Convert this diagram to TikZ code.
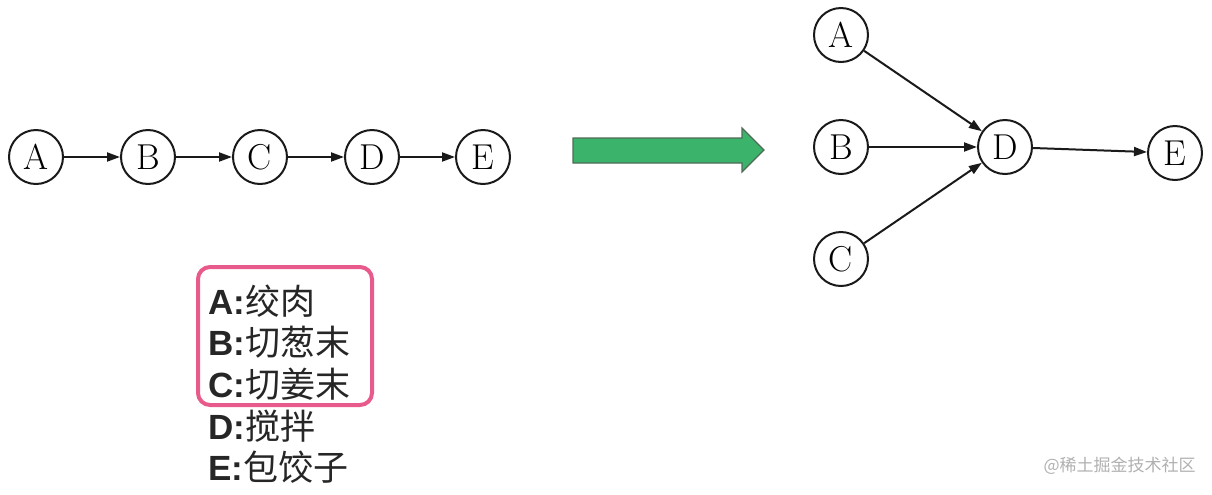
\documentclass[tikz,border=0pt]{standalone}
\usepackage{fontspec}
\usepackage{tikz}
\usetikzlibrary{arrows.meta,positioning,fit}
\newfontfamily\cjk{Noto Sans CJK SC}
\newfontfamily\arialfont{Liberation Sans}
\definecolor{ink}{HTML}{1A1A1A}
\definecolor{textgray}{HTML}{262626}
\definecolor{pink}{HTML}{E85A8C}
\definecolor{arrowgreen}{HTML}{3BB36A}
\definecolor{arrowedge}{HTML}{4E6B58}
\definecolor{markgray}{HTML}{B0B0B0}
\newcommand{\keyline}[2]{{\arialfont\bfseries #1:}{\cjk #2}}

\begin{document}
\begin{tikzpicture}[x=0.5pt,y=-0.5pt,
  task/.style={circle,draw=ink,line width=1pt,minimum size=27pt,inner sep=0pt,font=\fontsize{18}{18}\selectfont},
  flow/.style={draw=ink,line width=1pt,-{Triangle[length=6.5pt,width=4.5pt]}},
  key/.style={anchor=west,inner sep=0pt,text=textgray,font=\fontsize{17.5}{17.5}\selectfont}]
  \useasboundingbox (0,0) rectangle (1212,494);
  \node[task] (la) at (36,157) {A};
  \node[task] (lb) at (148,157) {B};
  \node[task] (lc) at (260,157) {C};
  \node[task] (ld) at (372,157) {D};
  \node[task] (le) at (483,157) {E};
  \draw[flow] (la) -- (lb);
  \draw[flow] (lb) -- (lc);
  \draw[flow] (lc) -- (ld);
  \draw[flow] (ld) -- (le);
  \draw[draw=arrowedge,fill=arrowgreen,line width=0.6pt]
    (573,138) -- (742,138) -- (742,128) -- (764,150) -- (742,172) -- (742,163) -- (573,163) -- cycle;
  \node[task] (ra) at (841,35) {A};
  \node[task] (rb) at (841,147) {B};
  \node[task] (rc) at (841,259) {C};
  \node[task] (rd) at (1005,147) {D};
  \node[task] (re) at (1175,153) {E};
  \draw[flow] (ra) -- (rd);
  \draw[flow] (rb) -- (rd);
  \draw[flow] (rc) -- (rd);
  \draw[flow] (rd) -- (re);
  \node[key] (ka) at (208,301) {\keyline{A}{绞肉}};
  \node[key] (kb) at (208,342) {\keyline{B}{切葱末}};
  \node[key] (kc) at (208,384) {\keyline{C}{切姜末}};
  \node[key] (kd) at (208,426) {\keyline{D}{搅拌}};
  \node[key] (ke) at (208,467) {\keyline{E}{包饺子}};
  \draw[pink,line width=2pt,rounded corners=6pt] (198,267) rectangle (372,405);
  \node[anchor=east,inner sep=0pt,text=markgray,font=\cjk\fontsize{8.5}{8.5}\selectfont] (mark) at (1196,466) {@稀土掘金技术社区};
\end{tikzpicture}
\end{document}
